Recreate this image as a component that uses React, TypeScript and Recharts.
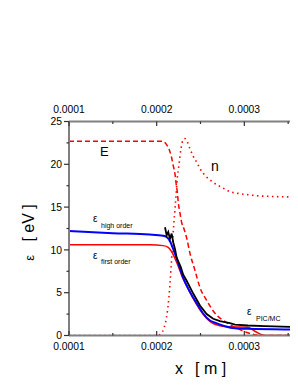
import React from "react";
import { LineChart, Line, XAxis, YAxis } from "recharts";

// x in metres, energy in eV
const highOrder: [number, number][] = [
  [0.0001, 12.2], [0.00015, 11.95], [0.000192, 11.8], [0.0002075, 11.65], [0.0002114, 11.5],
  [0.0002152, 11.0], [0.0002189, 10.1], [0.0002228, 9.0], [0.00023, 6.8], [0.000238, 5.1],
  [0.000246, 3.7], [0.0002528, 2.6], [0.0002608, 1.75], [0.0002665, 1.5], [0.0002779, 1.09],
  [0.0002893, 0.85], [0.0003041, 0.78], [0.000361, 0.7], [0.0004, 0.66],
];

const firstOrder: [number, number][] = [
  [0.0001, 10.6], [0.000192, 10.6], [0.0002075, 10.5], [0.0002132, 10.3], [0.0002171, 9.8],
  [0.0002209, 9.0], [0.0002246, 8.1], [0.000229, 6.9], [0.0002342, 5.8], [0.0002417, 4.3],
  [0.0002494, 3.0], [0.000257, 2.0], [0.0002645, 1.4], [0.0002722, 1.15], [0.0002779, 1.05],
  [0.000288, 1.0], [0.000304, 0.95], [0.000312, 0.5], [0.0003197, 0.08], [0.0003235, 0],
  [0.0004, 0],
];

const picMc: [number, number][] = [
  [0.0002095, 12.65], [0.0002114, 11.7], [0.0002132, 12.1], [0.0002152, 11.3], [0.0002171, 11.9],
  [0.0002189, 10.9], [0.0002209, 10.1], [0.0002228, 9.1], [0.0002275, 8.0], [0.0002303, 7.1],
  [0.0002342, 6.4], [0.0002417, 4.9], [0.0002494, 3.5], [0.000257, 2.5], [0.0002645, 1.95],
  [0.0002722, 1.67], [0.0002779, 1.55], [0.0002836, 1.44], [0.0002893, 1.28], [0.0003041, 1.17],
  [0.0003235, 1.09], [0.000361, 0.97], [0.0004, 0.92],
];

const fieldE: [number, number][] = [
  [0.0001, 22.7], [0.000207, 22.7], [0.0002113, 22.3], [0.000214, 21.8], [0.000217, 20.8],
  [0.000219, 19.8], [0.000221, 18.8], [0.000222, 17.9], [0.0002236, 16.7], [0.0002247, 15.5],
  [0.0002266, 14.3], [0.0002285, 13.2], [0.000231, 12.5], [0.0002342, 11.4], [0.000238, 9.6],
  [0.0002437, 7.6], [0.0002494, 5.6], [0.000257, 4.1], [0.0002665, 2.6], [0.0002798, 1.5],
  [0.0002927, 0.8], [0.000303, 0.35], [0.000314, 0.05], [0.00032, 0], [0.0004, 0],
];

const densityN: [number, number][] = [
  [0.0001, 0], [0.0002, 0], [0.000205, 0.2], [0.000208, 0.8], [0.000211, 2], [0.000214, 4.5],
  [0.0002165, 8], [0.0002185, 11.5], [0.0002205, 14.3], [0.000222, 16.2], [0.0002231, 17.9],
  [0.0002254, 19.9], [0.0002277, 21.8], [0.00023, 22.8], [0.0002323, 23.0], [0.000235, 22.6],
  [0.000238, 21.8], [0.0002414, 21.0], [0.0002459, 20.2], [0.0002494, 19.5], [0.0002551, 18.7],
  [0.0002631, 18.0], [0.0002688, 17.6], [0.0002745, 17.3], [0.0002813, 16.9], [0.0002927, 16.6],
  [0.0003041, 16.45], [0.0003178, 16.3], [0.0003292, 16.25], [0.00035, 16.2], [0.0004, 16.2],
];

const xTicks = [0.0001, 0.00015, 0.0002, 0.00025, 0.0003, 0.00035, 0.0004];
const xLabelled = [0.0001, 0.0002, 0.0003];
const yTicks = [0, 2.5, 5, 7.5, 10, 12.5, 15, 17.5, 20, 22.5, 25];

const toRows = (a: [number, number][]) => a.map(([x, y]) => ({ x, y }));

const FONT = "'Liberation Sans', Arial, sans-serif";
const AXIS = "#808080";

const isMajorX = (v: number) => Math.abs(v * 10000 - Math.round(v * 10000)) < 1e-6;
const isLabelledX = (v: number) => xLabelled.some((t) => Math.abs(t - v) < 1e-9);
const isMajorY = (v: number) => Math.abs(v / 5 - Math.round(v / 5)) < 1e-6;

const BottomTick = (props: any) => {
  const { x, y, payload } = props;
  const major = isMajorX(payload.value);
  return (
    <g>
      <line x1={x} x2={x} y1={y} y2={y - (major ? 4.5 : 2.5)} stroke="#333" strokeWidth={1.2} />
      {isLabelledX(payload.value) && (
        <text x={x} y={y + 14.5} textAnchor="middle" fontSize={10.3} fontFamily={FONT} fill="#000">
          {payload.value.toFixed(4)}
        </text>
      )}
    </g>
  );
};

const TopTick = (props: any) => {
  const { x, y, payload } = props;
  const major = isMajorX(payload.value);
  return (
    <g>
      <line x1={x} x2={x} y1={y} y2={y + (major ? 4.5 : 2.5)} stroke="#333" strokeWidth={1.2} />
      {isLabelledX(payload.value) && (
        <text x={x} y={y - 8.5} textAnchor="middle" fontSize={10.3} fontFamily={FONT} fill="#000">
          {payload.value.toFixed(4)}
        </text>
      )}
    </g>
  );
};

const LeftTick = (props: any) => {
  const { x, y, payload } = props;
  const major = isMajorY(payload.value);
  return (
    <g>
      <line x1={x} x2={x - (major ? 5 : 2.5)} y1={y} y2={y} stroke="#333" strokeWidth={1.2} />
      {major && (
        <text x={x - 7} y={y + 3.7} textAnchor="end" fontSize={10.3} fontFamily={FONT} fill="#000">
          {payload.value}
        </text>
      )}
    </g>
  );
};

export default function App() {
  return (
    <div style={{ width: 290, height: 369, overflow: "hidden", position: "relative" }}>
      <div style={{ position: "relative", width: 360, height: 377 }}>
        <LineChart
          width={360}
          height={377}
          margin={{ top: 93.5, right: 36, bottom: 19.5, left: 21 }}
        >
          <XAxis
            xAxisId="bottom"
            dataKey="x"
            type="number"
            orientation="bottom"
            domain={[0.0001, 0.0004]}
            ticks={xTicks}
            allowDataOverflow
            height={30}
            tickSize={0}
            tickMargin={0}
            tick={<BottomTick />}
            axisLine={{ stroke: AXIS, strokeWidth: 2 }}
            tickLine={false}
            interval={0}
          />
          <XAxis
            xAxisId="top"
            dataKey="x"
            type="number"
            orientation="top"
            domain={[0.0001, 0.0004]}
            ticks={xTicks}
            allowDataOverflow
            height={20}
            tickSize={0}
            tickMargin={0}
            tick={<TopTick />}
            axisLine={{ stroke: AXIS, strokeWidth: 2 }}
            tickLine={false}
            interval={0}
          />
          <YAxis
            type="number"
            domain={[0, 25]}
            ticks={yTicks}
            width={40}
            tickSize={0}
            tickMargin={0}
            tick={<LeftTick />}
            axisLine={{ stroke: AXIS, strokeWidth: 2 }}
            tickLine={false}
            interval={0}
            allowDataOverflow
          />
          <Line xAxisId="top" data={toRows(densityN)} dataKey="y" type="monotone" stroke="#ff0000"
            strokeWidth={1.6} strokeDasharray="1.5 3.5" dot={false} isAnimationActive={false} />
          <Line xAxisId="bottom" data={toRows(fieldE)} dataKey="y" type="monotone" stroke="#ff0000"
            strokeWidth={1.5} strokeDasharray="5 3" dot={false} isAnimationActive={false} />
          <Line xAxisId="bottom" data={toRows(firstOrder)} dataKey="y" type="monotone" stroke="#ff0000"
            strokeWidth={1.5} dot={false} isAnimationActive={false} />
          <Line xAxisId="bottom" data={toRows(highOrder)} dataKey="y" type="monotone" stroke="#0000ff"
            strokeWidth={2} dot={false} isAnimationActive={false} />
          <Line xAxisId="bottom" data={toRows(picMc)} dataKey="y" type="linear" stroke="#000000"
            strokeWidth={1.8} dot={false} isAnimationActive={false} />
        </LineChart>
        <svg
          width={360}
          height={377}
          style={{ position: "absolute", left: 0, top: 0, pointerEvents: "none" }}
          fontFamily={FONT}
        >
          <text x={92} y={148} fontSize={13} fill="#000">E</text>
          <text x={203} y={163} fontSize={14} fill="#000">n</text>
          <text x={85} y={214} fontSize={10} fill="#000">ε</text>
          <text x={93} y={219.5} fontSize={7} fill="#000">high order</text>
          <text x={85} y={250.5} fontSize={10} fill="#000">ε</text>
          <text x={93} y={255.5} fontSize={7} fill="#000">first order</text>
          <text x={239} y={307} fontSize={10} fill="#000">ε</text>
          <text x={248} y={312.5} fontSize={7} fill="#000">PIC/MC</text>
          <text
            x={26}
            y={224.5}
            transform="rotate(-90, 26, 224.5)"
            textAnchor="middle"
            fill="#000"
            style={{ whiteSpace: "pre" }}
          >
            <tspan fontSize={13}>ε</tspan>
            <tspan fontSize={16}>{"   [ eV ]"}</tspan>
          </text>
          <text y={366} fill="#000" fontSize={16}>
            <tspan x={167}>x</tspan>
            <tspan x={187}>[ m ]</tspan>
          </text>
        </svg>
      </div>
    </div>
  );
}
